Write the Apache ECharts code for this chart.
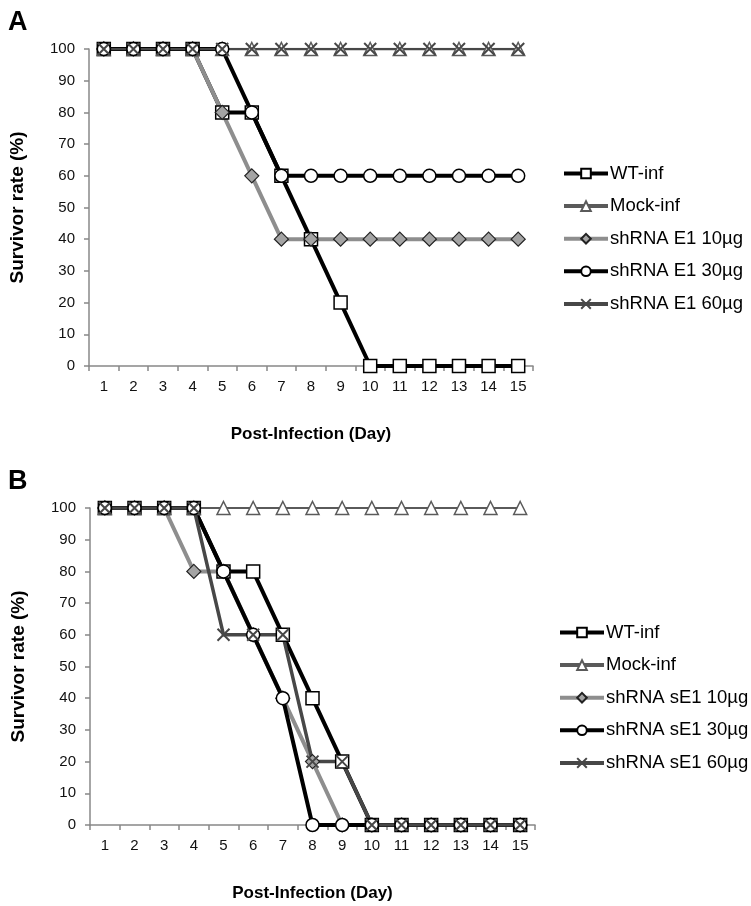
<!DOCTYPE html>
<html>
<head>
<meta charset="utf-8">
<script src="https://cdn.jsdelivr.net/npm/echarts@6/dist/echarts.min.js"></script>
<style>html,body{margin:0;padding:0;background:#fff}#c{width:751px;height:906px}</style>
</head>
<body>
<div id="c"></div>
<script>
const days = ['1','2','3','4','5','6','7','8','9','10','11','12','13','14','15'];
const yTicks = [0,10,20,30,40,50,60,70,80,90,100];

const namesA = ['WT-inf','Mock-inf','shRNA E1 10µg','shRNA E1 30µg','shRNA E1 60µg'];
const a_wt    = [100,100,100,100,80,80,60,40,20,0,0,0,0,0,0];
const a_mock  = [100,100,100,100,100,100,100,100,100,100,100,100,100,100,100];
const a_10    = [100,100,100,100,80,60,40,40,40,40,40,40,40,40,40];
const a_30    = [100,100,100,100,100,80,60,60,60,60,60,60,60,60,60];
const a_60    = [100,100,100,100,100,100,100,100,100,100,100,100,100,100,100];

const namesB = ['WT-inf','Mock-inf','shRNA sE1 10µg','shRNA sE1 30µg','shRNA sE1 60µg'];
const b_wt    = [100,100,100,100,80,80,60,40,20,0,0,0,0,0,0];
const b_mock  = [100,100,100,100,100,100,100,100,100,100,100,100,100,100,100];
const b_10    = [100,100,100,80,80,60,40,20,0,0,0,0,0,0,0];
const b_30    = [100,100,100,100,80,60,40,0,0,0,0,0,0,0,0];
const b_60    = [100,100,100,100,60,60,60,20,20,0,0,0,0,0,0];

const FONT = 'Liberation Sans, Arial, sans-serif';
const crossPath = 'path://M0,0L10,10M10,0L0,10';

const styles = [
  {symbol:'rect', size:13, line:'#000000', width:4, fill:'#ffffff', border:'#000000', bw:1.5},
  {symbol:'triangle', size:13, line:'#5a5a5a', width:2, fill:'#ffffff', border:'#5a5a5a', bw:1.5},
  {symbol:'diamond', size:14, line:'#8e8e8e', width:4, fill:'#a4a4a4', border:'#222222', bw:1.2},
  {symbol:'circle', size:13, line:'#000000', width:4, fill:'#ffffff', border:'#000000', bw:1.5},
  {symbol:crossPath, size:12, line:'#474747', width:3.5, fill:'none', border:'#474747', bw:2}
];

function mkSeries(names, datas, gi, widths){
  return datas.map((d,i)=>{
    const s = styles[i];
    return {
      type:'line', name:names[i], data:d, xAxisIndex:gi, yAxisIndex:gi,
      symbol:s.symbol, symbolSize:s.size, showAllSymbol:true,
      lineStyle:{color:s.line, width:(widths && widths[i]) || s.width},
      itemStyle:{color:s.fill==='none'?'rgba(0,0,0,0)':s.fill, borderColor:s.border, borderWidth:s.bw},
      emphasis:{disabled:true}, animation:false
    };
  });
}

function mkX(gi){
  return {
    type:'category', gridIndex:gi, data:days, boundaryGap:true,
    axisLine:{lineStyle:{color:'#888888', width:1.5}},
    axisTick:{show:true, interval:0, length:5, lineStyle:{color:'#888888', width:1.5}},
    axisLabel:{color:'#111', fontSize:15, fontFamily:FONT, margin:13, interval:0},
    name:'Post-Infection (Day)', nameLocation:'middle', nameGap:60,
    nameTextStyle:{color:'#000', fontSize:17, fontWeight:'bold', fontFamily:FONT}
  };
}
function mkY(gi){
  return {
    type:'value', gridIndex:gi, min:0, max:100, interval:10,
    axisLine:{show:true, lineStyle:{color:'#888888', width:1.5}},
    axisTick:{show:true, length:5, lineStyle:{color:'#888888', width:1.5}},
    splitLine:{show:false},
    axisLabel:{color:'#111', fontSize:15, fontFamily:FONT, margin:14,
      formatter:v=>yTicks.includes(v)?String(v):''},
    name:'Survivor rate (%)', nameLocation:'middle', nameGap:62, nameRotate:90,
    nameTextStyle:{color:'#000', fontSize:19, fontWeight:'bold', fontFamily:FONT}
  };
}
function mkLegend(names, left, top){
  return {
    data:names, orient:'vertical', left:left, top:top, padding:0,
    itemWidth:44, itemHeight:12, itemGap:13.6,
    selectedMode:false,
    lineStyle:{width:4},
    textStyle:{color:'#000', fontSize:18.5, fontFamily:FONT, padding:[0,0,0,-3]}
  };
}

const chart = echarts.init(document.getElementById('c'), null, {renderer:'canvas'});
chart.setOption({
  backgroundColor:'#fff',
  animation:false,
  title:[
    {text:'A', left:3, top:4, textStyle:{fontSize:27, fontWeight:'bold', color:'#000', fontFamily:FONT}},
    {text:'B', left:3, top:463, textStyle:{fontSize:27, fontWeight:'bold', color:'#000', fontFamily:FONT}}
  ],
  grid:[
    {left:88, top:49, width:445, height:317},
    {left:90, top:508, width:445, height:317}
  ],
  xAxis:[mkX(0), mkX(1)],
  yAxis:[mkY(0), mkY(1)],
  legend:[mkLegend(namesA, 562, 164), mkLegend(namesB, 558, 623)],
  series:[
    ...mkSeries(namesA,[a_wt,a_mock,a_10,a_30,a_60],0,[4,2,4,4,2.5]),
    ...mkSeries(namesB,[b_wt,b_mock,b_10,b_30,b_60],1,null)
  ]
});
</script>
</body>
</html>
